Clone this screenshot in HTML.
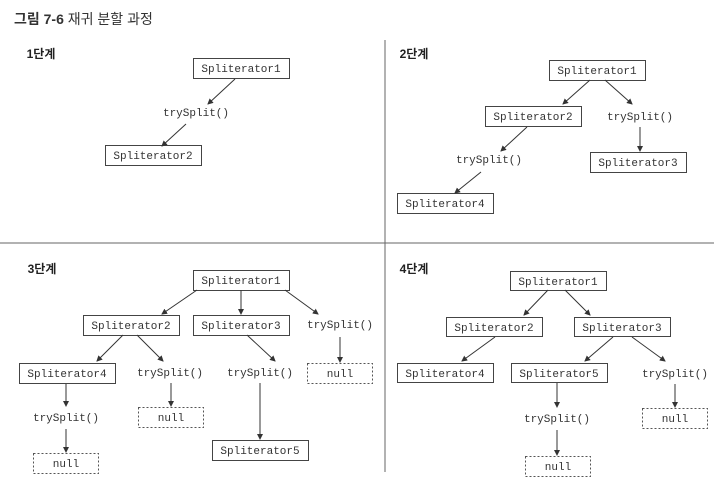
<!DOCTYPE html>
<html><head><meta charset="utf-8"><style>
html,body{margin:0;padding:0;background:#fff;}
svg{display:block;}
.t{font-family:"Liberation Mono",monospace;font-size:11px;fill:#333;}
.h{font-family:"Liberation Sans","Noto Sans CJK KR",sans-serif;font-size:12px;font-weight:bold;fill:#222;}
.b{fill:#fff;stroke:#444;stroke-width:1;}
.d{fill:#fff;stroke:#555;stroke-width:1;stroke-dasharray:2,2;}
.a{stroke:#333;stroke-width:1;fill:none;marker-end:url(#ar);}
</style></head><body>
<svg width="714" height="492" viewBox="0 0 714 492" xmlns="http://www.w3.org/2000/svg">
<defs><marker id="ar" markerWidth="6" markerHeight="6" refX="5" refY="3" orient="auto" markerUnits="userSpaceOnUse"><path d="M0,0 L6,3 L0,6 z" fill="#333"/></marker></defs>
<text x="14" y="24" font-family="Liberation Sans,'Noto Sans CJK KR',sans-serif" font-size="14" fill="#333"><tspan font-weight="bold">그림 7-6</tspan> 재귀 분할 과정</text>
<line x1="385" y1="40" x2="385" y2="472" stroke="#666" stroke-width="1"/>
<line x1="0" y1="243" x2="714" y2="243" stroke="#666" stroke-width="1"/>
<g text-anchor="middle">
<!-- panel 1 -->
<text class="h" x="41" y="58">1단계</text>
<rect class="b" x="193.5" y="58.5" width="96" height="20"/><text class="t" x="241" y="72">Spliterator1</text>
<text class="t" x="196" y="116">trySplit()</text>
<rect class="b" x="105.5" y="145.5" width="96" height="20"/><text class="t" x="153" y="159">Spliterator2</text>
<line class="a" x1="235" y1="79" x2="208" y2="104"/>
<line class="a" x1="186" y1="124" x2="162" y2="146"/>
<!-- panel 2 -->
<text class="h" x="414" y="58">2단계</text>
<rect class="b" x="549.5" y="60.5" width="96" height="20"/><text class="t" x="597" y="74">Spliterator1</text>
<rect class="b" x="485.5" y="106.5" width="96" height="20"/><text class="t" x="533" y="120">Spliterator2</text>
<text class="t" x="640" y="120">trySplit()</text>
<rect class="b" x="590.5" y="152.5" width="96" height="20"/><text class="t" x="638" y="166">Spliterator3</text>
<text class="t" x="489" y="163">trySplit()</text>
<rect class="b" x="397.5" y="193.5" width="96" height="20"/><text class="t" x="445" y="207">Spliterator4</text>
<line class="a" x1="590" y1="80" x2="563" y2="104"/>
<line class="a" x1="605" y1="80" x2="632" y2="104"/>
<line class="a" x1="640" y1="127" x2="640" y2="151"/>
<line class="a" x1="527" y1="127" x2="501" y2="151"/>
<line class="a" x1="481" y1="172" x2="455" y2="193"/>
<!-- panel 3 -->
<text class="h" x="42" y="273">3단계</text>
<rect class="b" x="193.5" y="270.5" width="96" height="20"/><text class="t" x="241" y="284">Spliterator1</text>
<rect class="b" x="83.5" y="315.5" width="96" height="20"/><text class="t" x="131" y="329">Spliterator2</text>
<rect class="b" x="193.5" y="315.5" width="96" height="20"/><text class="t" x="241" y="329">Spliterator3</text>
<text class="t" x="340" y="328">trySplit()</text>
<rect class="b" x="19.5" y="363.5" width="96" height="20"/><text class="t" x="67" y="377">Spliterator4</text>
<text class="t" x="170" y="376">trySplit()</text>
<text class="t" x="260" y="376">trySplit()</text>
<rect class="d" x="307.5" y="363.5" width="65" height="20"/><text class="t" x="340" y="377">null</text>
<text class="t" x="66" y="421">trySplit()</text>
<rect class="d" x="138.5" y="407.5" width="65" height="20"/><text class="t" x="171" y="421">null</text>
<rect class="d" x="33.5" y="453.5" width="65" height="20"/><text class="t" x="66" y="467">null</text>
<rect class="b" x="212.5" y="440.5" width="96" height="20"/><text class="t" x="260" y="454">Spliterator5</text>
<line class="a" x1="197" y1="290" x2="162" y2="314"/>
<line class="a" x1="241" y1="290" x2="241" y2="314"/>
<line class="a" x1="285" y1="290" x2="318" y2="314"/>
<line class="a" x1="123" y1="335" x2="97" y2="361"/>
<line class="a" x1="137" y1="335" x2="163" y2="361"/>
<line class="a" x1="247" y1="335" x2="275" y2="361"/>
<line class="a" x1="340" y1="337" x2="340" y2="362"/>
<line class="a" x1="66" y1="384" x2="66" y2="406"/>
<line class="a" x1="171" y1="383" x2="171" y2="406"/>
<line class="a" x1="260" y1="383" x2="260" y2="439"/>
<line class="a" x1="66" y1="429" x2="66" y2="452"/>
<!-- panel 4 -->
<text class="h" x="414" y="273">4단계</text>
<rect class="b" x="510.5" y="271.5" width="96" height="19"/><text class="t" x="558" y="285">Spliterator1</text>
<rect class="b" x="446.5" y="317.5" width="96" height="19"/><text class="t" x="494" y="331">Spliterator2</text>
<rect class="b" x="574.5" y="317.5" width="96" height="19"/><text class="t" x="622" y="331">Spliterator3</text>
<rect class="b" x="397.5" y="363.5" width="96" height="19"/><text class="t" x="445" y="377">Spliterator4</text>
<rect class="b" x="511.5" y="363.5" width="96" height="19"/><text class="t" x="559" y="377">Spliterator5</text>
<text class="t" x="675" y="377">trySplit()</text>
<rect class="d" x="642.5" y="408.5" width="65" height="20"/><text class="t" x="675" y="422">null</text>
<text class="t" x="557" y="422">trySplit()</text>
<rect class="d" x="525.5" y="456.5" width="65" height="20"/><text class="t" x="558" y="470">null</text>
<line class="a" x1="548" y1="290" x2="524" y2="315"/>
<line class="a" x1="565" y1="290" x2="590" y2="315"/>
<line class="a" x1="495" y1="337" x2="462" y2="361"/>
<line class="a" x1="613" y1="337" x2="585" y2="361"/>
<line class="a" x1="632" y1="337" x2="665" y2="361"/>
<line class="a" x1="557" y1="383" x2="557" y2="407"/>
<line class="a" x1="675" y1="384" x2="675" y2="407"/>
<line class="a" x1="557" y1="430" x2="557" y2="455"/>
</g>
</svg>
</body></html>
